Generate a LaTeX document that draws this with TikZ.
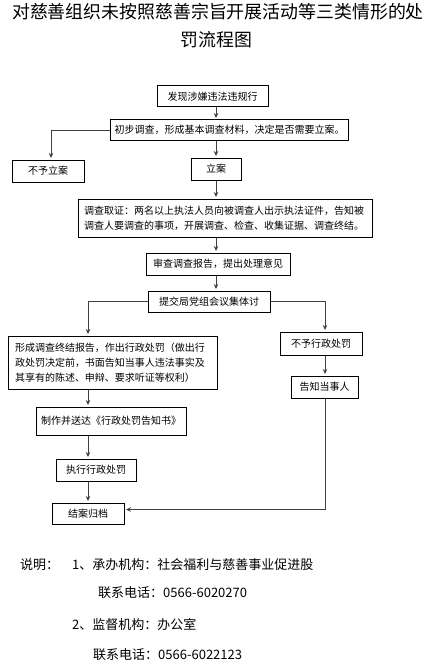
\documentclass[tikz,border=0pt]{standalone}
\usepackage{fontspec}
\setmainfont{Noto Sans CJK SC}
\usetikzlibrary{arrows.meta}
\begin{document}
\begin{tikzpicture}[x=1pt,y=-1pt,
 box/.style={draw=black,line width=1pt,inner xsep=4pt,inner ysep=2pt,font=\fontsize{10}{14.7}\selectfont,align=center},
 arr/.style={-{Stealth[length=5pt,width=4.5pt]},line width=0.9pt,draw=black!75,shorten >=1.5pt},
 ln/.style={line width=0.9pt,draw=black!75},
 ttl/.style={inner sep=0pt,font=\fontsize{17.9}{22}\selectfont},
 note/.style={inner sep=0pt,anchor=west,font=\fontsize{13}{16}\selectfont}]
\useasboundingbox[fill=white] (0,0) rectangle (432,666);
% title
\node[ttl] (t1) at (218,12) {对慈善组织未按照慈善宗旨开展活动等三类情形的处};
\node[ttl] (t2) at (216.5,40) {罚流程图};
% axes
\coordinate (axC) at (216,0);
\coordinate (axN) at (51,0);
\coordinate (axL) at (88,0);
\coordinate (axR) at (325,0);
% boxes
\node[box,minimum width=111pt,minimum height=21pt] (b1) at (212.5,96.5) {发现涉嫌违法违规行};
\node[box,minimum width=235pt,minimum height=20pt] (b2) at (229.5,130) {初步调查，形成基本调查材料，决定是否需要立案。};
\node[box,minimum width=72pt,minimum height=22pt] (bn) at (48,171) {不予立案};
\node[box,minimum width=50pt,minimum height=22pt] (bl) at (216,169) {立案};
\node[box,text width=282pt,inner xsep=6pt,align=left,minimum height=38pt] (b3) at (225,218) {调查取证：两名以上执法人员向被调查人出示执法证件，告知被\\调查人要调查的事项，开展调查、检查、收集证据、调查终结。};
\node[box,minimum width=144pt,minimum height=22pt] (b4) at (218,264) {审查调查报告，提出处理意见};
\node[box,minimum width=122pt,minimum height=21pt] (b5) at (209,301.5) {提交局党组会议集体讨};
\node[box,text width=195pt,inner xsep=7pt,align=left,minimum height=53pt] (b6) at (112.5,362.5) {形成调查终结报告，作出行政处罚（做出行\\政处罚决定前，书面告知当事人违法事实及\\其享有的陈述、申辩、要求听证等权利）};
\node[box,minimum width=82pt,minimum height=23pt] (b7) at (321,343.5) {不予行政处罚};
\node[box,minimum width=67pt,minimum height=22pt] (b8) at (324.5,387) {告知当事人};
\node[box,minimum width=150pt,minimum height=28pt] (b9) at (111,421) {制作并送达《行政处罚告知书》};
\node[box,minimum width=80pt,minimum height=22pt] (b10) at (96,470) {执行行政处罚};
\node[box,minimum width=72pt,minimum height=21pt] (b11) at (88,513.5) {结案归档};
% connectors
\draw[arr] (b1.south -| axC) -- (b2.north -| axC);
\draw[arr] (b2.west) -| (axN |- bn.north);
\draw[arr] (b2.south -| axC) -- (bl.north -| axC);
\draw[arr] (bl.south -| axC) -- (b3.north -| axC);
\draw[arr] (b3.south -| axC) -- (b4.north -| axC);
\draw[arr] (b4.south -| axC) -- (b5.north -| axC);
\draw[arr] (b5.west) -| (axL |- b6.north);
\draw[arr] (b5.east) -| (axR |- b7.north);
\draw[arr] (b7.south -| axR) -- (b8.north -| axR);
\draw[arr] (b6.south -| axL) -- (b9.north -| axL);
\draw[arr] (b9.south -| axL) -- (b10.north -| axL);
\draw[arr] (b10.south -| axL) -- (b11.north -| axL);
\draw[arr] (b8.south -| axR) |- ([yshift=4pt]b11.east);
% notes
\node[note] (n0) at (20,565) {说明：};
\node[note] (n1) at (72,565) {1、承办机构：社会福利与慈善事业促进股};
\node[note] (n2) at (98,593) {联系电话：0566-6020270};
\node[note] (n3) at (72,625) {2、监督机构：办公室};
\node[note] (n4) at (93,655) {联系电话：0566-6022123};
\end{tikzpicture}
\end{document}
